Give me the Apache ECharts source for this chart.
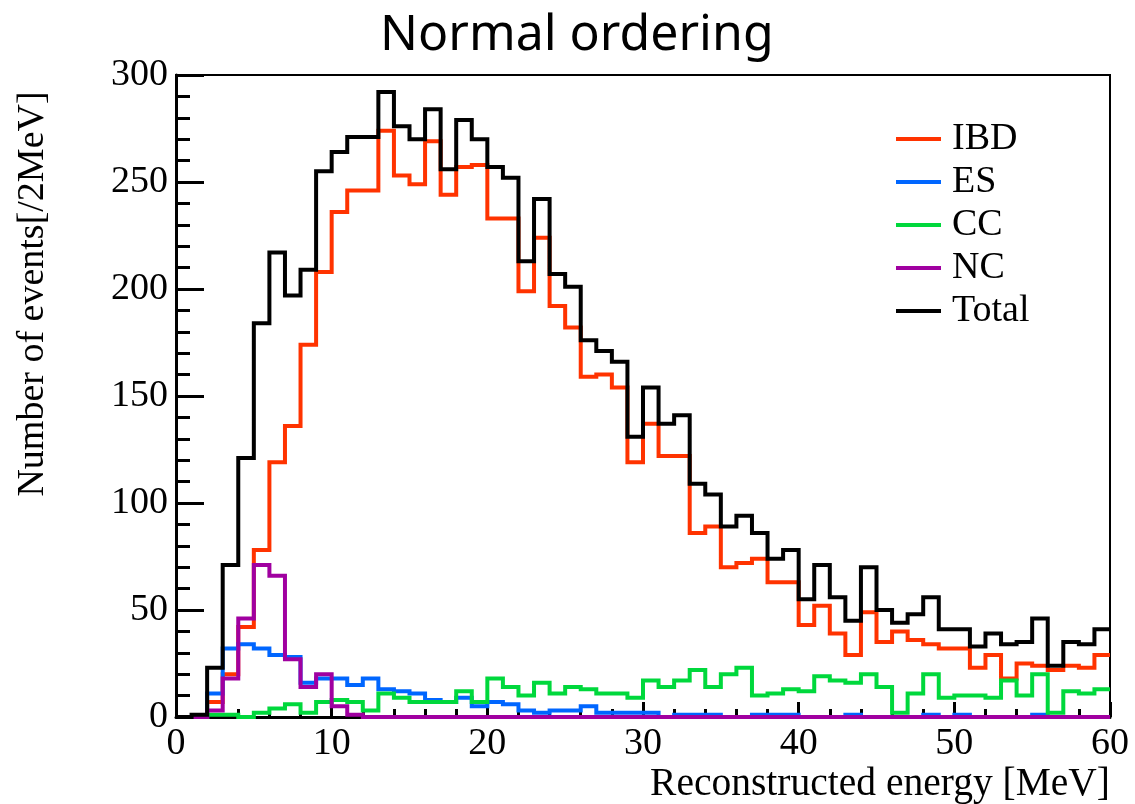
<!DOCTYPE html>
<html>
<head>
<meta charset="utf-8">
<script src="https://cdn.jsdelivr.net/npm/echarts@6/dist/echarts.min.js"></script>
<style>
html,body{margin:0;padding:0;background:#fff;}
#chart{width:1135px;height:804px;}
</style>
</head>
<body>
<div id="chart"></div>
<script>
// Histogram: 60 bins of 1 MeV from 0 to 60 MeV
const binStart = 0;
const binWidth = 1;
const seriesNames = ['IBD', 'ES', 'CC', 'NC', 'Total'];
const ibd = [0,0,7,20,42,78,119,136,174,208,236,246,246,274,253,249,269,244,257,258,
             233,233,199,224,192,182,159,160,154,119,137,122,122,86,89,70,72,74,63,63,
             43,52,39,29,49,35,40,36,34,32,32,23,29,18,25,24,22,24,23,29];
const es  = [0,0,11,32,34,32,29,28,16,18,18,15,18,13,12,11,8,7,9,5,
             7,6,3,2,3,3,5,2,2,2,2,0,1,1,1,0,0,1,1,1,
             0,0,0,1,0,0,0,0,1,0,1,0,0,0,0,1,0,0,0,0];
const cc  = [0,0,1,1,0,2,4,6,2,7,8,7,3,11,9,7,7,7,12,7,
             18,14,10,16,11,14,13,11,11,9,17,14,17,22,14,20,23,10,11,13,
             12,19,17,16,20,14,2,11,20,9,10,10,9,17,10,20,2,12,11,13];
const nc  = [0,0,3,18,46,71,66,27,14,20,5,1,0,0,0,0,0,0,0,0,
             0,0,0,0,0,0,0,0,0,0,0,0,0,0,0,0,0,0,0,0,
             0,0,0,0,0,0,0,0,0,0,0,0,0,0,0,0,0,0,0,0];
const total = [0,1,23,71,121,184,217,197,209,255,264,271,271,292,276,270,284,256,279,270,
               257,252,213,242,207,201,176,171,166,131,154,137,141,109,104,89,94,86,74,78,
               55,71,56,45,70,50,44,48,56,41,41,33,39,34,35,46,24,35,34,41];
const xTicks = [0,10,20,30,40,50,60];
const yTicks = [0,50,100,150,200,250,300];

const colors = {IBD:'#ff3300', ES:'#0066ff', CC:'#00d83c', NC:'#a000a0', Total:'#000000'};
const valuesByName = {IBD: ibd, ES: es, CC: cc, NC: nc, Total: total};

function toSteps(arr){
  const pts = arr.map((v,i)=>[binStart + i*binWidth, v]);
  pts.push([binStart + arr.length*binWidth, arr[arr.length-1]]);
  return pts;
}

const serif = 'Liberation Serif';
const chart = echarts.init(document.getElementById('chart'), null, {renderer:'canvas'});
const option = {
  animation: false,
  backgroundColor: '#ffffff',
  title: {
    text: 'Normal ordering',
    left: 375, top: 6,
    textStyle: {fontFamily: 'Noto Sans', fontSize: 50, fontWeight: 'normal', color: '#000'}
  },
  legend: {
    orient: 'vertical',
    left: 891, top: 115,
    icon: 'rect',
    itemWidth: 45, itemHeight: 4,
    itemGap: 5,
    data: seriesNames,
    selectedMode: false,
    textStyle: {fontFamily: serif, fontSize: 38, lineHeight: 38, color: '#000', padding: [0,0,0,6]}
  },
  grid: {
    left: 176, top: 75, width: 934, height: 642,
    show: true, borderColor: '#000', borderWidth: 2, backgroundColor: 'transparent',
    containLabel: false, outerBoundsMode: 'none'
  },
  xAxis: {
    type: 'value', min: xTicks[0], max: xTicks[xTicks.length-1], interval: 10,
    name: 'Reconstructed energy [MeV]',
    nameLocation: 'end', nameGap: 0, nameMoveOverlap: false,
    nameTextStyle: {fontFamily: serif, fontSize: 39.5, color: '#000', align: 'right', verticalAlign: 'top', padding: [48,0,0,0]},
    axisLine: {show: true, onZero: false, lineStyle: {color: '#000', width: 3}},
    axisTick: {show: true, inside: true, length: 15, lineStyle: {color: '#000', width: 3}},
    minorTick: {show: true, splitNumber: 5, length: 8, lineStyle: {color: '#000', width: 3}},
    axisLabel: {fontFamily: serif, fontSize: 38, color: '#000', margin: 8, showMinLabel: true, showMaxLabel: true},
    splitLine: {show: false}
  },
  yAxis: {
    type: 'value', min: yTicks[0], max: yTicks[yTicks.length-1], interval: 50,
    name: 'Number of events[/2MeV]',
    nameLocation: 'middle', nameGap: 124, nameRotate: 90, nameMoveOverlap: false,
    nameTextStyle: {fontFamily: serif, fontSize: 38, color: '#000', padding: [0,0,0,204]},
    axisLine: {show: true, onZero: false, lineStyle: {color: '#000', width: 3}},
    axisTick: {show: true, inside: true, length: 28, lineStyle: {color: '#000', width: 3}},
    minorTick: {show: true, splitNumber: 5, length: 14, lineStyle: {color: '#000', width: 3}},
    axisLabel: {fontFamily: serif, fontSize: 38, color: '#000', margin: 8, showMinLabel: true, showMaxLabel: true},
    splitLine: {show: false}
  },
  series: seriesNames.map(name => ({
    name: name,
    type: 'line',
    step: 'end',
    showSymbol: false,
    symbol: 'none',
    silent: true,
    color: colors[name],
    lineStyle: {color: colors[name], width: 4, join: 'miter', cap: 'butt'},
    itemStyle: {color: colors[name]},
    data: toSteps(valuesByName[name])
  }))
};
chart.setOption(option);
</script>
</body>
</html>
